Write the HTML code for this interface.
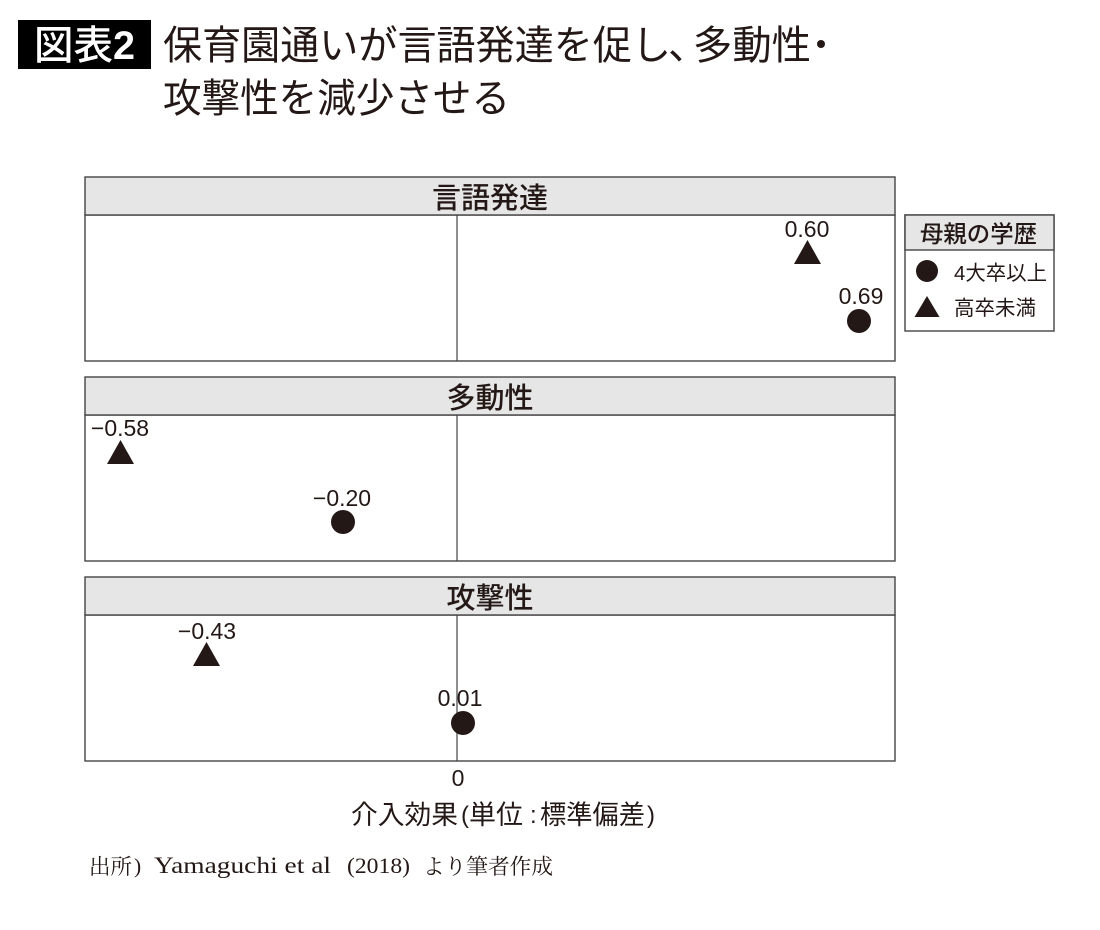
<!DOCTYPE html>
<html lang="ja">
<head>
<meta charset="utf-8">
<title>図表2</title>
<style>
html,body{margin:0;padding:0;background:#fff;width:1100px;height:930px;overflow:hidden}
svg{display:block}
text{font-family:"Liberation Sans","Noto Sans CJK JP",sans-serif;fill:#231815}
.serif{font-family:"Noto Serif CJK SC","Liberation Serif",serif}
.lat{font-family:"Liberation Serif",serif}
.strip{fill:#e6e6e6;stroke:#444;stroke-width:1.4}
.box{fill:#fff;stroke:#444;stroke-width:1.4}
.v{stroke:#444;stroke-width:1.2}
.n{font-size:23px;text-anchor:middle}
.h{font-size:29px;font-weight:500;text-anchor:middle}
.d{fill:#231815}
</style>
</head>
<body>
<svg width="1100" height="930" viewBox="0 0 1100 930" xmlns="http://www.w3.org/2000/svg">
<rect width="1100" height="930" fill="#fff"/>

<rect x="18" y="20" width="133" height="49" fill="#000"/>
<text x="34" y="59" font-size="40" font-weight="500" style="fill:#fff" textLength="79" lengthAdjust="spacingAndGlyphs">図表</text>
<text x="113" y="59" font-size="40" font-weight="700" style="fill:#fff" textLength="22" lengthAdjust="spacingAndGlyphs">2</text>
<text x="163" y="59" font-size="40" textLength="508" lengthAdjust="spacingAndGlyphs">保育園通いが言語発達を促し</text>
<text x="668" y="59" font-size="40">、</text>
<text x="693" y="59" font-size="40" textLength="118" lengthAdjust="spacingAndGlyphs">多動性</text>
<circle class="d" cx="821" cy="44" r="4"/>
<text x="163" y="112" font-size="40" textLength="347" lengthAdjust="spacingAndGlyphs">攻撃性を減少させる</text>

<!-- Panel 1 -->
<rect class="box" x="85" y="215" width="810" height="146"/>
<rect class="strip" x="85" y="177" width="810" height="38"/>
<line class="v" x1="457" y1="215" x2="457" y2="361"/>
<text class="h" x="490" y="208">言語発達</text>
<text class="n" x="807" y="237">0.60</text>
<polygon class="d" points="807.5,240 794,264 821,264"/>
<text class="n" x="861" y="304">0.69</text>
<circle class="d" cx="859" cy="321" r="12"/>

<!-- Panel 2 -->
<rect class="box" x="85" y="415" width="810" height="146"/>
<rect class="strip" x="85" y="377" width="810" height="38"/>
<line class="v" x1="457" y1="415" x2="457" y2="561"/>
<text class="h" x="490" y="408">多動性</text>
<text class="n" x="120" y="436">−0.58</text>
<polygon class="d" points="120.5,440 107,464 134,464"/>
<text class="n" x="342" y="506">−0.20</text>
<circle class="d" cx="343" cy="522" r="12"/>

<!-- Panel 3 -->
<rect class="box" x="85" y="615" width="810" height="146"/>
<rect class="strip" x="85" y="577" width="810" height="38"/>
<line class="v" x1="457" y1="615" x2="457" y2="761"/>
<text class="h" x="490" y="608">攻撃性</text>
<text class="n" x="207" y="639">−0.43</text>
<polygon class="d" points="206.5,642 193,666 220,666"/>
<text class="n" x="460" y="706">0.01</text>
<circle class="d" cx="463" cy="723" r="12"/>

<!-- Axis -->
<text class="n" x="458" y="786">0</text>
<text x="351" y="824" font-size="26.5" textLength="107" lengthAdjust="spacingAndGlyphs">介入効果</text>
<text x="461" y="823" font-size="24">(</text>
<text x="469" y="824" font-size="26.5" textLength="54" lengthAdjust="spacingAndGlyphs">単位</text>
<text x="530" y="823" font-size="24">:</text>
<text x="540" y="824" font-size="26.5" textLength="105" lengthAdjust="spacingAndGlyphs">標準偏差</text>
<text x="647" y="823" font-size="24">)</text>

<!-- Legend -->
<rect class="box" x="905" y="215" width="149" height="116"/>
<rect class="strip" x="905" y="215" width="149" height="35"/>
<text x="920" y="242" font-size="23.5" font-weight="500" textLength="117" lengthAdjust="spacingAndGlyphs">母親の学歴</text>
<circle class="d" cx="927" cy="271" r="11"/>
<text x="954" y="280" font-size="20.5" textLength="93" lengthAdjust="spacingAndGlyphs">4大卒以上</text>
<polygon class="d" points="927,296 914.5,317 939.5,317"/>
<text x="954" y="315" font-size="20.5" textLength="82" lengthAdjust="spacingAndGlyphs">高卒未満</text>

<!-- Source -->
<text class="serif" x="89" y="874" font-size="21.5" textLength="43" lengthAdjust="spacingAndGlyphs">出所</text>
<text class="lat" x="134" y="873" font-size="21.5">)</text>
<text class="lat" x="154" y="873" font-size="23" textLength="177" lengthAdjust="spacingAndGlyphs">Yamaguchi et al</text>
<text class="lat" x="347" y="873" font-size="22" textLength="63" lengthAdjust="spacingAndGlyphs">(2018)</text>
<text class="serif" x="423" y="874" font-size="21.5" textLength="130" lengthAdjust="spacingAndGlyphs">より筆者作成</text>
</svg>
</body>
</html>
